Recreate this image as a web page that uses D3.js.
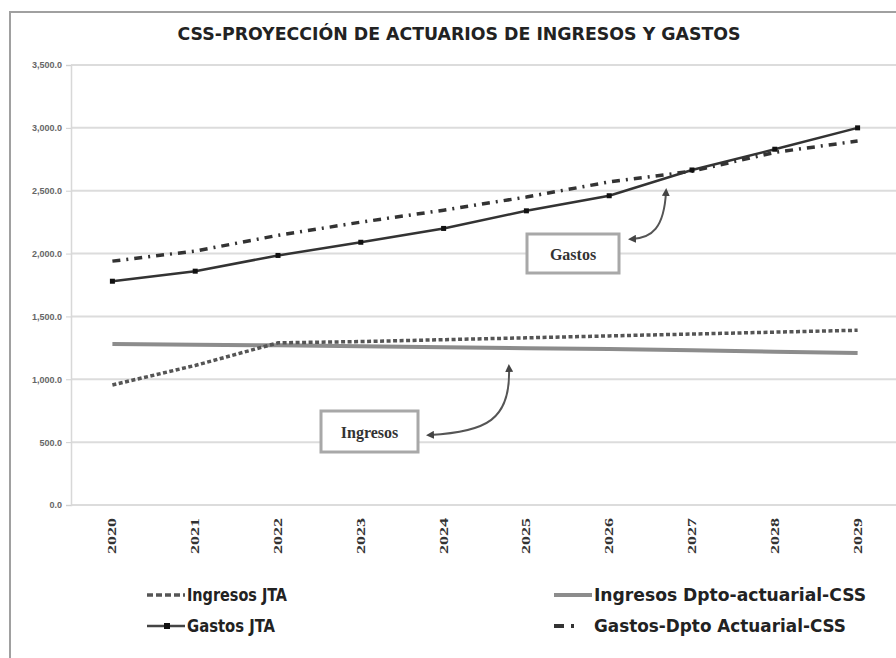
<!DOCTYPE html>
<html><head><meta charset="utf-8">
<script src="https://cdn.jsdelivr.net/npm/d3@7"></script>
<style>body{margin:0;background:#fff}svg{display:block}</style>
</head><body>
<svg id="chart" width="896" height="658"></svg>
<script>
const years = ["2020","2021","2022","2023","2024","2025","2026","2027","2028","2029"];
const ingresosJTA  = [955, 1110, 1290, 1300, 1315, 1330, 1345, 1360, 1375, 1390];
const ingresosDpto = [1280, 1275, 1270, 1262, 1255, 1247, 1240, 1230, 1220, 1210];
const gastosJTA    = [1780, 1860, 1985, 2090, 2200, 2340, 2460, 2665, 2830, 3000];
const gastosDpto   = [1940, 2020, 2145, 2250, 2345, 2450, 2570, 2655, 2805, 2895];
const yTicks = [0, 500, 1000, 1500, 2000, 2500, 3000, 3500];
const title = "CSS-PROYECCIÓN DE ACTUARIOS DE INGRESOS Y GASTOS";

const svg = d3.select("#chart");
const cond = "'Liberation Sans Narrow','DejaVu Sans Condensed','Liberation Sans',Arial,sans-serif";

// frame
svg.append("rect").attr("x",10).attr("y",12).attr("width",900).attr("height",660)
  .attr("fill","none").attr("stroke","#a0a0a0").attr("stroke-width",2);

const x = d3.scalePoint().domain(years).range([71, 899]).padding(0.5);
const y = d3.scaleLinear().domain([0, 3500]).range([505, 65]);

// gridlines
svg.append("g").selectAll("line").data(yTicks).join("line")
  .attr("x1",71).attr("x2",899).attr("y1",d=>y(d)).attr("y2",d=>y(d))
  .attr("stroke","#dcdcdc").attr("stroke-width",2);

// y axis
const yAxis = svg.append("g").attr("transform","translate(71,0)")
  .call(d3.axisLeft(y).tickValues(yTicks).tickSize(5).tickPadding(4)
    .tickFormat(d=>d3.format(",.1f")(d)));
yAxis.select(".domain").attr("stroke","#d8d8d8").attr("stroke-width",1.5);
yAxis.selectAll(".tick line").attr("stroke","#d0d0d0");
yAxis.selectAll("text").attr("font-family","'Liberation Sans',Arial,sans-serif")
  .attr("font-size",9).attr("fill","#666").attr("font-weight","bold");

// x labels
svg.append("g").selectAll("text").data(years).join("text")
  .attr("transform",d=>`translate(${x(d)+4},536) rotate(-90)`)
  .attr("text-anchor","middle").attr("font-family","'Liberation Serif','DejaVu Serif',serif")
  .attr("font-weight","bold").attr("font-size",13).attr("fill","#333")
  .attr("textLength",36).attr("lengthAdjust","spacingAndGlyphs")
  .text(d=>d);

// title
svg.append("text").attr("x",459).attr("y",40).attr("text-anchor","middle")
  .attr("font-family",cond).attr("font-weight","bold").attr("font-size",17).attr("fill","#222")
  .attr("textLength",563).attr("lengthAdjust","spacingAndGlyphs").text(title);

const line = d3.line().x((d,i)=>x(years[i])).y(d=>y(d));

// Ingresos Dpto (gray solid thick)
svg.append("path").datum(ingresosDpto).attr("d",line).attr("fill","none")
  .attr("stroke","#8c8c8c").attr("stroke-width",4);
// Ingresos JTA (dashed)
svg.append("path").datum(ingresosJTA).attr("d",line).attr("fill","none")
  .attr("stroke","#555").attr("stroke-width",3.5).attr("stroke-dasharray","4,2.5");
// Gastos Dpto (dash-dot)
svg.append("path").datum(gastosDpto).attr("d",line).attr("fill","none")
  .attr("stroke","#333").attr("stroke-width",3.5).attr("stroke-dasharray","8,6,2,6");
// Gastos JTA (solid with markers)
svg.append("path").datum(gastosJTA).attr("d",line).attr("fill","none")
  .attr("stroke","#333").attr("stroke-width",2.5);
svg.append("g").selectAll("rect").data(gastosJTA).join("rect")
  .attr("x",(d,i)=>x(years[i])-2.5).attr("y",d=>y(d)-2.5).attr("width",5).attr("height",5)
  .attr("fill","#111");

// arrow markers
const defs = svg.append("defs");
defs.append("marker").attr("id","ah").attr("viewBox","0 0 10 10").attr("refX",5).attr("refY",5)
  .attr("markerWidth",4).attr("markerHeight",4).attr("orient","auto-start-reverse")
  .append("path").attr("d","M0,0 L10,5 L0,10 z").attr("fill","#444");

// annotations
function box(x0,y0,w,h,label){
  svg.append("rect").attr("x",x0).attr("y",y0).attr("width",w).attr("height",h)
    .attr("fill","#fff").attr("stroke","#a8a8a8").attr("stroke-width",3);
  svg.append("text").attr("x",x0+w/2).attr("y",y0+h/2+6).attr("text-anchor","middle")
    .attr("font-family","'Liberation Serif','DejaVu Serif',serif").attr("font-weight","bold")
    .attr("font-size",16).attr("fill","#333").text(label);
}
box(527,234,92,39,"Gastos");
box(321,411,97,41,"Ingresos");
svg.append("path").attr("d","M666,192 C664,228 652,238 632,239").attr("fill","none")
  .attr("stroke","#555").attr("stroke-width",2).attr("marker-start","url(#ah)").attr("marker-end","url(#ah)");
svg.append("path").attr("d","M509,368 C511,420 486,432 430,435").attr("fill","none")
  .attr("stroke","#555").attr("stroke-width",2).attr("marker-start","url(#ah)").attr("marker-end","url(#ah)");

// legend
const legend = [
  {name:"Ingresos JTA", x:147, y:595, type:"ijta"},
  {name:"Gastos JTA", x:147, y:626, type:"gjta"},
  {name:"Ingresos Dpto-actuarial-CSS", x:554, y:595, type:"idpto"},
  {name:"Gastos-Dpto Actuarial-CSS", x:554, y:626, type:"gdpto"}
];
const lens = {ijta:100, gjta:88, idpto:272, gdpto:252};
legend.forEach(l=>{
  const g = svg.append("g");
  const ln = g.append("line").attr("x1",l.x).attr("x2",l.x+38).attr("y1",l.y).attr("y2",l.y);
  if(l.type==="ijta") ln.attr("stroke","#555").attr("stroke-width",3.5).attr("stroke-dasharray","6,3");
  if(l.type==="gjta"){ ln.attr("stroke","#444").attr("stroke-width",2.5);
    g.append("rect").attr("x",l.x+17).attr("y",l.y-3).attr("width",6).attr("height",6).attr("fill","#111"); }
  if(l.type==="idpto") ln.attr("stroke","#8c8c8c").attr("stroke-width",4);
  if(l.type==="gdpto") ln.attr("stroke","#333").attr("stroke-width",4).attr("stroke-dasharray","10,7,3,20");
  g.append("text").attr("x",l.x+40).attr("y",l.y+6).attr("font-family",cond)
    .attr("font-weight","bold").attr("font-size",17).attr("fill","#222")
    .attr("textLength",lens[l.type]).attr("lengthAdjust","spacingAndGlyphs").text(l.name);
});
</script>
</body></html>
